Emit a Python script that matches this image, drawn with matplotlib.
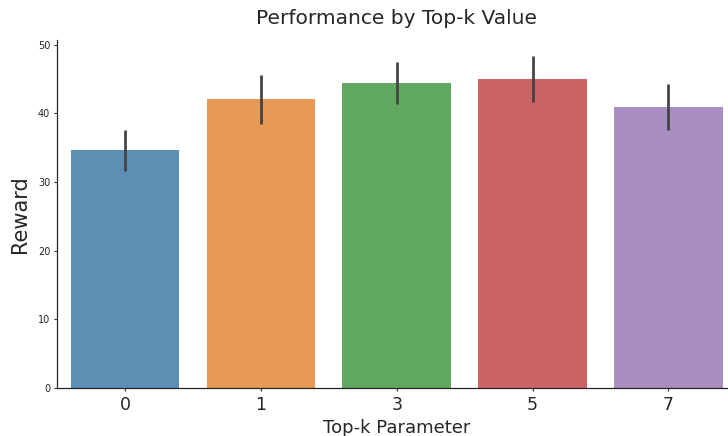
import matplotlib
matplotlib.use("Agg")
import matplotlib.pyplot as plt
import numpy as np

# Data
categories = ["0", "1", "3", "5", "7"]
reward_mean = [34.6, 42.1, 44.4, 45.0, 40.9]
ci_low = [31.6, 38.4, 41.3, 41.7, 37.5]
ci_high = [37.5, 45.6, 47.4, 48.3, 44.2]
colors = ["#3274a1", "#e1812c", "#3a923a", "#c03d3e", "#9372b2"]
y_ticks = [0, 10, 20, 30, 40, 50]

fig = plt.figure(figsize=(7.28, 4.36), dpi=100)
ax = fig.add_axes([57.2 / 728, 48 / 436, 679 / 728, 347.6 / 436])

x = np.arange(len(categories))
means = np.array(reward_mean)
yerr = np.vstack([means - np.array(ci_low), np.array(ci_high) - means])
ax.bar(x, means, width=0.8, color=colors, alpha=0.8, linewidth=0)
ax.errorbar(x, means, yerr=yerr, fmt="none", ecolor="#424242", elinewidth=1.95, capsize=0)

ax.set_xlim(-0.5, len(categories) - 0.5)
ax.set_ylim(0, 50.6)
ax.set_xticks(x)
ax.set_xticklabels(categories, fontsize=12.5, color="#262626")
ax.set_yticks(y_ticks)
ax.set_yticklabels([str(v) for v in y_ticks], fontsize=7, color="#262626")
ax.tick_params(axis="y", length=2.5, width=0.8, pad=2.5, colors="#262626")
ax.tick_params(axis="x", length=2.5, width=0.8, pad=3, colors="#262626")

for s in ["top", "right"]:
    ax.spines[s].set_visible(False)
for s in ["left", "bottom"]:
    ax.spines[s].set_color("#262626")
    ax.spines[s].set_linewidth(0.9)

ax.set_xlabel("Top-k Parameter", fontsize=13, color="#262626", labelpad=3.5)
ax.set_ylabel("Reward", fontsize=15, color="#262626", labelpad=6)
ax.set_title("Performance by Top-k Value", fontsize=14.5, color="#262626", pad=12)

fig.savefig("out.png", dpi=100)
